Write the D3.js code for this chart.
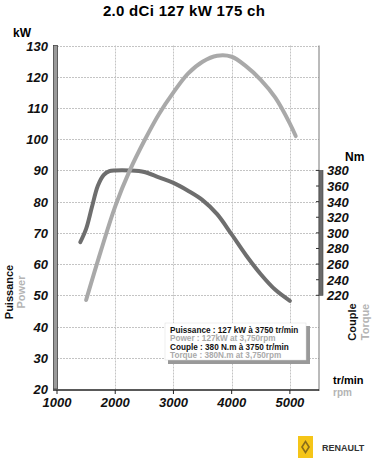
<!DOCTYPE html>
<html>
<head>
<meta charset="utf-8">
<script src="https://cdn.jsdelivr.net/npm/d3@7"></script>
<style>
  body { margin: 0; background: #fff; }
  svg { display: block; font-family: "Liberation Sans", Arial, sans-serif; }
  .tick-lbl { font-size: 13px; font-weight: bold; font-style: italic; fill: #111; }
</style>
</head>
<body>
<div id="chart"></div>
<script>
// power curve (kW) and torque curve (Nm)
const powerRpm = [1500, 1750, 2000, 2250, 2500, 2750, 3000, 3250, 3500, 3750, 4000, 4250, 4500, 4750, 5000, 5100];
const powerKw  = [48.5, 64, 78.5, 90, 99.5, 108, 115, 121, 124.8, 126.7, 126.4, 123.3, 119, 113.3, 105, 101];

const torqueRpm = [1400, 1500, 1600, 1700, 1800, 1900, 2000, 2250, 2500, 2750, 3000, 3250, 3500, 3750, 4000, 4250, 4500, 4750, 5000];
const torqueNm  = [288, 305, 333, 360, 374, 379, 380, 380, 378, 371, 364, 354, 342, 324, 298, 271, 247, 227, 213];

const rpmTicks = [1000, 2000, 3000, 4000, 5000];
const kwTicks = [20, 30, 40, 50, 60, 70, 80, 90, 100, 110, 120, 130];
const nmTicks = [220, 240, 260, 280, 300, 320, 340, 360, 380];

const legendLines = [
  ["Puissance : 127 kW à 3750 tr/min", "#111"],
  ["Power : 127kW at 3,750rpm", "#aaa"],
  ["Couple : 380 N.m à 3750 tr/min", "#111"],
  ["Torque : 380N.m at 3,750rpm", "#aaa"]
];

const width = 373, height = 466;

const svg = d3.select("#chart").append("svg")
  .attr("width", width)
  .attr("height", height);

// scales
const x = d3.scaleLinear().domain([1000, 5500]).range([57, 319]);
const yP = d3.scaleLinear().domain([20, 130]).range([389, 45.5]);
const yT = d3.scaleLinear().domain([220, 380]).range([yP(50), yP(90)]);

const plotL = x(1000), plotR = x(5500), plotT = yP(130), plotB = yP(20);

// title
svg.append("text")
  .attr("x", 184).attr("y", 16)
  .attr("text-anchor", "middle")
  .style("font-size", "15px").style("font-weight", "bold")
  .style("letter-spacing", "0.3px")
  .text("2.0 dCi 127 kW 175 ch");

// grid
const gridG = svg.append("g")
  .attr("stroke", "#c4c4c4")
  .attr("stroke-width", 1)
  .attr("stroke-dasharray", "2,1");

gridG.selectAll(".hg")
  .data(kwTicks.filter(d => d > 20))
  .enter().append("line")
  .attr("class", "hg")
  .attr("x1", plotL).attr("x2", plotR)
  .attr("y1", d => Math.round(yP(d)) + 0.5).attr("y2", d => Math.round(yP(d)) + 0.5);

gridG.selectAll(".vg")
  .data(rpmTicks.filter(d => d > 1000))
  .enter().append("line")
  .attr("class", "vg")
  .attr("x1", d => Math.round(x(d)) + 0.5).attr("x2", d => Math.round(x(d)) + 0.5)
  .attr("y1", plotT).attr("y2", plotB);

// right border
svg.append("line")
  .attr("x1", plotR).attr("x2", plotR)
  .attr("y1", plotT).attr("y2", plotB + 2)
  .attr("stroke", "#777").attr("stroke-width", 1);

// bottom axis
const xAxis = svg.append("g").attr("transform", `translate(0,${plotB + 1})`);
xAxis.append("line")
  .attr("x1", plotL - 4).attr("x2", plotR)
  .attr("stroke", "#222").attr("stroke-width", 1.5);
xAxis.selectAll(".tk").data(rpmTicks).enter().append("line")
  .attr("class", "tk")
  .attr("x1", d => x(d)).attr("x2", d => x(d))
  .attr("y1", 0).attr("y2", 4)
  .attr("stroke", "#222");
xAxis.selectAll("text").data(rpmTicks).enter().append("text")
  .attr("class", "tick-lbl")
  .attr("x", d => x(d)).attr("y", 17)
  .attr("text-anchor", "middle")
  .text(d => d);

// left axis bar
svg.append("rect")
  .attr("x", plotL - 3.5).attr("y", plotT)
  .attr("width", 4).attr("height", plotB - plotT)
  .attr("fill", "#9a9a9a").attr("stroke", "#444").attr("stroke-width", 0.8);

svg.append("g").selectAll("text")
  .data(kwTicks)
  .enter().append("text")
  .attr("class", "tick-lbl")
  .attr("x", 48).attr("y", d => yP(d) + 5)
  .attr("text-anchor", "end")
  .text(d => d);

svg.append("text")
  .attr("x", 13).attr("y", 37)
  .style("font-size", "12px").style("font-weight", "bold")
  .text("kW");

// right axis bar
svg.append("rect")
  .attr("x", plotR).attr("y", yT(380))
  .attr("width", 4).attr("height", yT(220) - yT(380))
  .attr("fill", "#6a6a6a").attr("stroke", "#444").attr("stroke-width", 0.6);

svg.append("g").selectAll("line")
  .data(nmTicks)
  .enter().append("line")
  .attr("x1", plotR - 3).attr("x2", plotR)
  .attr("y1", d => yT(d)).attr("y2", d => yT(d))
  .attr("stroke", "#333");

svg.append("g").selectAll("text")
  .data(nmTicks)
  .enter().append("text")
  .attr("class", "tick-lbl")
  .attr("x", 327).attr("y", d => yT(d) + 5)
  .text(d => d);

svg.append("text")
  .attr("x", 345).attr("y", 161)
  .style("font-size", "12px").style("font-weight", "bold")
  .text("Nm");

// curves
const line = d3.line().curve(d3.curveCatmullRom.alpha(0.5));

svg.append("path")
  .attr("d", line(torqueRpm.map((r, i) => [x(r), yT(torqueNm[i])])))
  .attr("fill", "none").attr("stroke", "#6e6e6e")
  .attr("stroke-width", 4).attr("stroke-linecap", "round");

svg.append("path")
  .attr("d", line(powerRpm.map((r, i) => [x(r), yP(powerKw[i])])))
  .attr("fill", "none").attr("stroke", "#a9a9a9")
  .attr("stroke-width", 4).attr("stroke-linecap", "round");

// side titles
function vText(tx, ty, txt, color) {
  svg.append("text")
    .attr("transform", `translate(${tx},${ty}) rotate(-90)`)
    .attr("text-anchor", "middle")
    .style("font-size", "11px").style("font-weight", "bold")
    .attr("fill", color)
    .text(txt);
}
vText(13, 292, "Puissance", "#111");
vText(25, 292, "Power", "#b4b4b4");
vText(356, 322, "Couple", "#111");
vText(369, 322, "Torque", "#b4b4b4");

svg.append("text")
  .attr("x", 333).attr("y", 384)
  .style("font-size", "11px").style("font-weight", "bold")
  .text("tr/min");
svg.append("text")
  .attr("x", 333).attr("y", 396)
  .style("font-size", "10px").style("font-weight", "bold")
  .attr("fill", "#b4b4b4")
  .text("rpm");

// legend box
const lg = svg.append("g").attr("transform", "translate(165,323)");
lg.append("rect")
  .attr("x", 3).attr("y", 3).attr("width", 142).attr("height", 38)
  .attr("fill", "#999");
lg.append("rect")
  .attr("x", 0).attr("y", 0).attr("width", 141).attr("height", 37)
  .attr("fill", "#fff").attr("stroke", "#ddd").attr("stroke-width", 0.5);
lg.selectAll("text").data(legendLines).enter().append("text")
  .attr("x", 5).attr("y", (d, i) => 9.5 + i * 8.6)
  .style("font-size", "8.2px").style("font-weight", "bold")
  .attr("fill", d => d[1])
  .text(d => d[0]);

// logo
const logo = svg.append("g").attr("transform", "translate(298,436)");
logo.append("rect")
  .attr("width", 15).attr("height", 22)
  .attr("fill", "#f5c518");
logo.append("path")
  .attr("d", "M7.5,4 L12,11 L7.5,18 L3,11 Z M7.5,7 L5,11 L7.5,15 L10,11 Z")
  .attr("fill", "#8a6d1a").attr("fill-rule", "evenodd");
svg.append("text")
  .attr("x", 322).attr("y", 451)
  .style("font-size", "9px").style("font-weight", "bold")
  .attr("fill", "#333")
  .text("RENAULT");
</script>
</body>
</html>
